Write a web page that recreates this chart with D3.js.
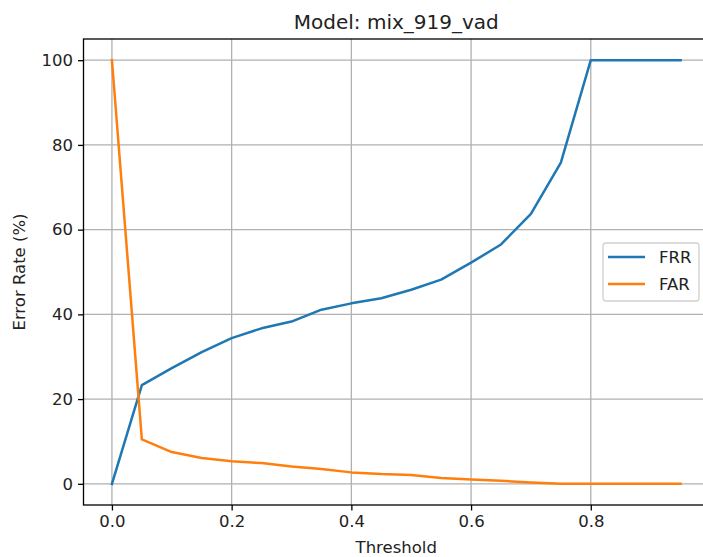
<!DOCTYPE html>
<html>
<head>
<meta charset="utf-8">
<script src="https://cdn.jsdelivr.net/npm/d3@7"></script>
<style>
  body { margin: 0; background: #fff; }
  svg { display: block; font-family: "DejaVu Sans", sans-serif; }
</style>
</head>
<body>
<svg id="chart" width="703" height="557"></svg>
<script>
const thresholds = [0, 0.05, 0.1, 0.15, 0.2, 0.25, 0.3, 0.35, 0.4, 0.45, 0.5, 0.55, 0.6, 0.65, 0.7, 0.75, 0.8, 0.85, 0.9, 0.95];
const frr = [0, 23.3, 27.3, 31.1, 34.4, 36.7, 38.3, 41.1, 42.6, 43.8, 45.8, 48.2, 52.2, 56.5, 63.7, 75.8, 100, 100, 100, 100];
const far = [100, 10.5, 7.5, 6.1, 5.3, 4.9, 4.1, 3.5, 2.7, 2.3, 2.1, 1.4, 1.0, 0.7, 0.3, 0, 0, 0, 0, 0];
const seriesNames = ["FRR", "FAR"];
const colors = ["#1f77b4", "#ff7f0e"];
const xTicks = [0, 0.2, 0.4, 0.6, 0.8];
const yTicks = [0, 20, 40, 60, 80, 100];
const title = "Model: mix_919_vad";
const xLabel = "Threshold";
const yLabel = "Error Rate (%)";

const svg = d3.select("#chart");
const L = 83.5, R = 709, T = 39, B = 505;
const x = d3.scaleLinear().domain([-0.0475, 0.9975]).range([L, R]);
const y = d3.scaleLinear().domain([-5, 105]).range([B, T]);
const FS = 16.5;

// grid
const grid = svg.append("g");
grid.selectAll("line.gx").data(xTicks).join("line")
  .attr("x1", d => x(d)).attr("x2", d => x(d)).attr("y1", T).attr("y2", B)
  .attr("stroke", "#b0b0b0").attr("stroke-width", 1.3);
grid.selectAll("line.gy").data(yTicks).join("line")
  .attr("x1", L).attr("x2", R).attr("y1", d => y(d)).attr("y2", d => y(d))
  .attr("stroke", "#b0b0b0").attr("stroke-width", 1.3);

// lines
const line = d3.line().x((d, i) => x(thresholds[i])).y(d => y(d));
[frr, far].forEach((s, k) => {
  svg.append("path").datum(s).attr("d", line)
    .attr("fill", "none").attr("stroke", colors[k]).attr("stroke-width", 2.5)
    .attr("stroke-linejoin", "round").attr("stroke-linecap", "square");
});

// axes
const xAxis = d3.axisBottom(x).tickValues(xTicks).tickFormat(d3.format(".1f")).tickSizeOuter(0).tickSize(5.5).tickPadding(5);
const yAxis = d3.axisLeft(y).tickValues(yTicks).tickFormat(d3.format("d")).tickSizeOuter(0).tickSize(5.5).tickPadding(5);
const gx = svg.append("g").attr("transform", `translate(0,${B})`).call(xAxis);
const gy = svg.append("g").attr("transform", `translate(${L},0)`).call(yAxis);
[gx, gy].forEach(g => {
  g.select(".domain").remove();
  g.selectAll(".tick line").attr("stroke", "#000").attr("stroke-width", 1.3);
  g.selectAll(".tick text").attr("font-size", FS).attr("fill", "#222").attr("font-family", "DejaVu Sans, sans-serif");
});

// spines
svg.append("rect").attr("x", L).attr("y", T).attr("width", R - L).attr("height", B - T)
  .attr("fill", "none").attr("stroke", "#000").attr("stroke-width", 1.3);

// title & labels
svg.append("text").attr("x", (L + R) / 2).attr("y", 29).attr("text-anchor", "middle")
  .attr("font-size", 20).attr("fill", "#222").text(title);
svg.append("text").attr("x", (L + R) / 2).attr("y", 553).attr("text-anchor", "middle")
  .attr("font-size", FS).attr("fill", "#222").text(xLabel);
svg.append("text").attr("transform", `translate(25,${(T + B) / 2}) rotate(-90)`).attr("text-anchor", "middle")
  .attr("font-size", FS).attr("fill", "#222").text(yLabel);

// legend
const lg = svg.append("g");
lg.append("rect").attr("x", 603).attr("y", 243).attr("width", 96).attr("height", 58)
  .attr("rx", 3).attr("fill", "rgba(255,255,255,0.8)").attr("stroke", "#d0d0d0").attr("stroke-width", 1.3);
seriesNames.forEach((n, i) => {
  const yy = 257 + i * 27;
  lg.append("line").attr("x1", 608).attr("x2", 645).attr("y1", yy).attr("y2", yy)
    .attr("stroke", colors[i]).attr("stroke-width", 2.5);
  lg.append("text").attr("x", 659).attr("y", yy + 6).attr("font-size", FS).attr("fill", "#222").text(n);
});
</script>
</body>
</html>
